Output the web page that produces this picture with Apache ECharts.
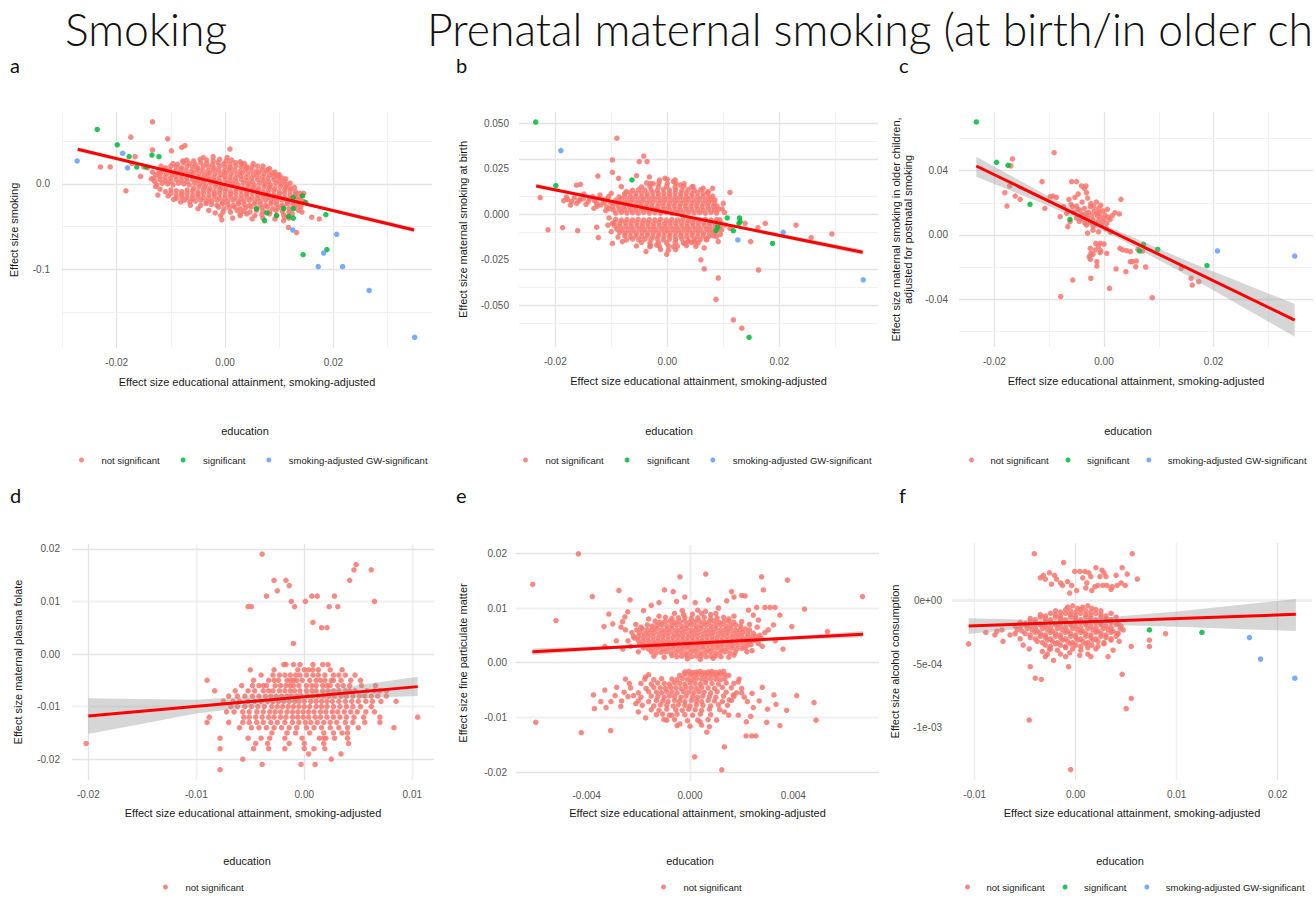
<!DOCTYPE html>
<html>
<head>
<meta charset="utf-8">
<script src="https://cdn.jsdelivr.net/npm/echarts@6.0.0/dist/echarts.min.js"></script>
<style>
  html, body { margin: 0; padding: 0; background: #ffffff; }
  #chart { width: 1316px; height: 900px; }
</style>
</head>
<body>
<div id="chart"></div>
<script>
// ---------- shared ----------
const SANS = '"Liberation Sans", Arial, sans-serif';
const HEAD = 'Lato, "Open Sans", sans-serif';
const GROUPS = ['not significant', 'significant', 'smoking-adjusted GW-significant'];
const GROUP_COLORS = ['#F8766D', '#00BA38', '#619CFF'];
const X_TITLE = 'Effect size educational attainment, smoking-adjusted';

// ---------- a: smoking (x in 1e-4, y in 1e-3) ----------
const A_UNIT = [1e-4, 1e-3];
const A_NS = [
[-58,27],[-46,29],[-34,28],[-22,27],[-10,29],[2,27],[12,28],
[-88,23],[-77,25],[-66,24],[-55,23],[-45,25],[-34,24],[-23,23],[-13,25],[-2,24],[9,23],[19,25],[30,24],
[-110,19],[-100,21],[-90,20],[-80,19],[-70,21],[-60,20],[-50,19],[-40,21],[-30,20],[-20,19],[-10,21],[0,20],[10,19],[20,21],[30,20],[40,19],[50,20],[60,21],
[-122,15],[-112,17],[-102,16],[-92,15],[-82,17],[-72,16],[-62,15],[-52,17],[-42,16],[-32,15],[-22,17],[-12,16],[-2,15],[8,17],[18,16],[28,15],[38,17],[48,16],[58,15],[68,17],[76,16],
[-128,11],[-118,13],[-108,12],[-98,11],[-88,13],[-78,12],[-68,11],[-58,13],[-48,12],[-38,11],[-28,13],[-18,12],[-8,11],[2,13],[12,12],[22,11],[32,13],[42,12],[52,11],[62,13],[72,12],[82,11],[88,13],
[-131,7],[-121,9],[-111,8],[-101,7],[-91,9],[-81,8],[-71,7],[-61,9],[-51,8],[-41,7],[-31,9],[-21,8],[-11,7],[-1,9],[9,8],[19,7],[29,9],[39,8],[49,7],[59,9],[69,8],[79,7],[89,9],[98,8],[105,7],
[-130,3],[-120,5],[-110,4],[-100,3],[-90,5],[-80,4],[-70,3],[-60,5],[-50,4],[-40,3],[-30,5],[-20,4],[-10,3],[0,5],[10,4],[20,3],[30,5],[40,4],[50,3],[60,5],[70,4],[80,3],[90,5],[100,4],[110,3],
[-126,-1],[-116,1],[-106,0],[-96,-1],[-86,1],[-76,0],[-66,-1],[-56,1],[-46,0],[-36,-1],[-26,1],[-16,0],[-6,-1],[4,1],[14,0],[24,-1],[34,1],[44,0],[54,-1],[64,1],[74,0],[84,-1],[94,1],[104,0],[114,-1],
[-58,-5],[-48,-3],[-38,-4],[-28,-5],[-18,-3],[-8,-4],[2,-5],[12,-3],[22,-4],[32,-5],[42,-3],[52,-4],[62,-5],[72,-3],[82,-4],[92,-5],[102,-3],[112,-4],[121,-5],
[-110,-9],[-100,-7],[-90,-8],[-80,-9],[-70,-7],[-60,-8],[-50,-9],[-40,-7],[-30,-8],[-20,-9],[-10,-7],[0,-8],[10,-9],[20,-7],[30,-8],[40,-9],[50,-7],[60,-8],[70,-9],[80,-7],[90,-8],[100,-9],[110,-7],[120,-8],[130,-9],
[-100,-11],[-90,-13],[-80,-12],[-70,-11],[-60,-13],[-50,-12],[-40,-11],[-30,-13],[-20,-12],[-10,-11],[0,-13],[10,-12],[20,-11],[30,-13],[40,-12],[50,-11],[60,-13],[70,-12],[80,-11],[90,-13],[100,-12],[110,-11],[120,-13],[130,-12],[138,-11],
[-90,-17],[-80,-15],[-70,-16],[-60,-17],[-50,-15],[-40,-16],[-30,-17],[-20,-15],[-10,-16],[0,-17],[10,-15],[20,-16],[30,-17],[40,-15],[50,-16],[60,-17],[70,-15],[80,-16],[90,-17],[100,-15],[110,-16],[120,-17],[130,-15],[139,-16],
[-75,-19],[-65,-21],[-55,-20],[-45,-19],[-35,-21],[-25,-20],[-15,-19],[-5,-21],[5,-20],[15,-19],[25,-21],[35,-20],[45,-19],[55,-21],[65,-20],[75,-19],[85,-21],[95,-20],[105,-19],[115,-21],[125,-20],[135,-19],
[-45,-25],[-35,-23],[-25,-24],[-15,-25],[-5,-23],[5,-24],[15,-25],[25,-23],[35,-24],[45,-25],[55,-23],[65,-24],[75,-25],[85,-23],[95,-24],[105,-25],[115,-23],[125,-24],[134,-25],
[-12,-27],[-2,-29],[8,-28],[18,-27],[28,-29],[38,-28],[48,-27],[58,-29],[68,-28],[78,-27],[88,-29],[98,-28],[108,-27],[118,-29],[128,-28],
[10,-33],[22,-31],[34,-32],[46,-33],[58,-31],[70,-32],[82,-33],[94,-31],[106,-32],[118,-33],
[40,-35],[55,-37],[68,-36],[82,-35],[95,-37],[108,-36],
[70,-40],[92,-41],[110,-39],
[-134,14],[-136,6],[-128,-3],[-120,-6],[-105,-14],[-95,-18],[-82,-21],[-64,-25],[-50,-29],[-30,-31],[-18,-34],[-4,-33],[-78,27],[-96,24],[-118,21],[-40,31],[-22,32],[4,31],[36,24],[52,24],[70,21],[82,18],[92,14],[100,11],[112,6],[120,1],[128,-4],[142,-13],[144,-21],[140,-27],[136,-31],[124,-35],[28,-37],[-8,-37],[14,-40],[50,-41],[118,-40],
[-134,73],[-174,55],[-106,53],[-134,40],[-99,39],[-74,45],[-80,43],[9,41],[-166,32],[-230,20],[-212,20],[-156,9],[-183,-8],[-124,-13],[80,17],[97,10],[-6,-42],[142,-33],[160,-39],[174,-41],[117,-51],[132,-57],[145,-11],[146,-21],[28,26],[40,20],[-150,20],[-143,19],[-172,24],[-71,28],[108,-43],[28,-35]
];
const A_SIG = [[-236,64],[-199,46],[-177,32],[-163,20],[-146,20],[-135,34],[-122,32],[126,-16],[143,-14],[149,-22],[126,-29],[108,-29],[117,-38],[126,-40],[95,-37],[77,-34],[73,-43],[58,-29],[186,-36],[188,-77],[144,-83]];
const A_GW = [[-273,27],[-189,36],[-180,19],[125,-54],[206,-59],[182,-81],[172,-97],[217,-97],[266,-125],[350,-180]];
const A_FIT = [[-0.0272, 0.0407], [0.0349, -0.054]];
const A_BAND_X = [-0.0272, 0, 0.0349];
const A_BAND_HI = [0.0432, -0.0002, -0.051];
const A_BAND_LO = [0.0382, -0.0014, -0.057];
const A_XTICKS = [-0.02, 0, 0.02], A_XLABELS = ['-0.02', '0.00', '0.02'], A_XMINOR = [-0.03, -0.01, 0.01, 0.03];
const A_YTICKS = [-0.1, 0], A_YLABELS = ['-0.1', '0.0'], A_YMINOR = [-0.15, -0.05, 0.05];

// ---------- b: maternal smoking at birth (x in 1e-4, y in 1e-4) ----------
const B_UNIT = [1e-4, 1e-4];
const B_NS = [
[-92,6],[-82,10],[-72,7],[-62,9],[-52,6],[-42,10],[-32,7],[-22,9],[-12,6],[-2,10],[8,7],[18,9],[28,6],[38,10],[48,7],[58,9],[68,6],[78,10],[88,7],
[-96,24],[-86,28],[-76,25],[-66,27],[-56,24],[-46,28],[-36,25],[-26,27],[-16,24],[-6,28],[4,25],[14,27],[24,24],[34,28],[44,25],[54,27],[64,24],[74,28],[84,25],[91,27],
[-98,42],[-88,46],[-78,43],[-68,45],[-58,42],[-48,46],[-38,43],[-28,45],[-18,42],[-8,46],[2,43],[12,45],[22,42],[32,46],[42,43],[52,45],[62,42],[72,46],[82,43],[89,45],
[-96,60],[-86,64],[-76,61],[-66,63],[-56,60],[-46,64],[-36,61],[-26,63],[-16,60],[-6,64],[4,61],[14,63],[24,60],[34,64],[44,61],[54,63],[64,60],[74,64],[84,61],
[-92,78],[-82,82],[-72,79],[-62,81],[-52,78],[-42,82],[-32,79],[-22,81],[-12,78],[-2,82],[8,79],[18,81],[28,78],[38,82],[48,79],[58,81],[68,78],[78,82],[85,79],
[-86,96],[-76,100],[-66,97],[-56,99],[-46,96],[-36,100],[-26,97],[-16,99],[-6,96],[4,100],[14,97],[24,99],[34,96],[44,100],[54,97],[64,99],[74,96],[81,100],
[-76,114],[-66,118],[-56,115],[-46,117],[-36,114],[-26,118],[-16,115],[-6,117],[4,114],[14,118],[24,115],[34,117],[44,114],[54,118],[64,115],[72,117],
[-62,132],[-51,136],[-40,133],[-29,135],[-18,132],[-7,136],[4,133],[15,135],[26,132],[37,136],[48,133],[60,135],
[-46,150],[-31,154],[-16,151],[-1,153],[14,150],[29,154],[44,151],
[-30,168],[-15,172],[0,169],[15,171],[30,168],
[-14,188],[0,192],[14,189],
[-92,-28],[-82,-32],[-72,-29],[-62,-31],[-52,-28],[-42,-32],[-32,-29],[-22,-31],[-12,-28],[-2,-32],[8,-29],[18,-31],[28,-28],[38,-32],[48,-29],[58,-31],[68,-28],[78,-32],[88,-29],[94,-31],
[-95,-46],[-85,-50],[-75,-47],[-65,-49],[-55,-46],[-45,-50],[-35,-47],[-25,-49],[-15,-46],[-5,-50],[5,-47],[15,-49],[25,-46],[35,-50],[45,-47],[55,-49],[65,-46],[75,-50],[85,-47],[95,-49],
[-94,-64],[-84,-68],[-74,-65],[-64,-67],[-54,-64],[-44,-68],[-34,-65],[-24,-67],[-14,-64],[-4,-68],[6,-65],[16,-67],[26,-64],[36,-68],[46,-65],[56,-67],[66,-64],[76,-68],[86,-65],[94,-67],
[-90,-82],[-80,-86],[-70,-83],[-60,-85],[-50,-82],[-40,-86],[-30,-83],[-20,-85],[-10,-82],[0,-86],[10,-83],[20,-85],[30,-82],[40,-86],[50,-83],[60,-85],[70,-82],[80,-86],[90,-83],
[-85,-100],[-75,-104],[-65,-101],[-55,-103],[-45,-100],[-35,-104],[-25,-101],[-15,-103],[-5,-100],[5,-104],[15,-101],[25,-103],[35,-100],[45,-104],[55,-101],[65,-103],[75,-100],[85,-104],
[-76,-118],[-66,-122],[-56,-119],[-46,-121],[-36,-118],[-26,-122],[-16,-119],[-6,-121],[4,-118],[14,-122],[24,-119],[34,-121],[44,-118],[54,-122],[64,-119],[74,-121],[82,-118],
[-62,-136],[-51,-140],[-40,-137],[-29,-139],[-18,-136],[-7,-140],[4,-137],[15,-139],[26,-136],[37,-140],[48,-137],[59,-139],[70,-136],
[-46,-154],[-31,-158],[-16,-155],[-1,-157],[14,-154],[29,-158],[44,-155],[55,-157],
[-30,-172],[-14,-176],[2,-173],[18,-175],[34,-172],
[-12,-193],[2,-197],[15,-194],
[-185,75],[-180,95],[-178,82],[-171,70],[-173,51],[-166,90],[-162,60],[-158,72],[-156,82],[-150,85],[-149,112],[-145,55],[-141,70],[-138,88],[-133,97],[-131,33],[-130,75],[-126,60],[-122,90],[-120,106],[-118,52],[-114,79],[-112,66],[-108,42],[-107,83],[-105,97],[-101,64],[-104,30],[-100,115],[-110,20],[-125,45],
[-90,418],[-98,299],[-42,320],[-50,290],[-36,290],[-98,230],[-124,210],[-87,198],[-55,212],[-32,205],[-4,198],[-162,160],[-155,165],[81,143],[112,120],[-227,92],[-187,-73],[-160,-90],[-126,-71],[-123,-128],[-98,-50],[-98,-160],[-80,-150],[-38,-205],[-1,-220],[38,-150],[51,-176],[66,-185],[91,-150],[139,-50],[149,-150],[162,-73],[175,-50],[257,-128],[294,-108],[60,-250],[66,-300],[91,-350],[87,-467],[118,-580],[133,-626],[163,-306],[-82,152],[-73,125],[-37,172],[-25,168],[11,180],[23,161],[46,152],[64,143],[73,125],[-73,-141],[-55,-174],[-31,-178],[-19,-169],[11,-178],[32,-159],[49,-150],[70,-141],[88,-123],[97,-86],[103,-59],[112,-77],[98,30],[100,60],[-104,-20],[-106,-60],[-100,-95],[-88,-125],[95,-110],[102,10],[-213,-85],[230,-60]
];
const B_SIG = [[-235,507],[-199,158],[-63,189],[107,-20],[129,-20],[130,-40],[128,-50],[118,-90],[87,-90],[90,-70],[188,-160],[146,-676]];
const B_GW = [[-190,350],[126,-141],[207,-99],[350,-360]];
const B_FIT = [[-0.0234, 0.0156], [0.0349, -0.0209]];
const B_BAND_X = [-0.0234, 0, 0.0349];
const B_BAND_HI = [0.0168, 0.0012, -0.0194];
const B_BAND_LO = [0.0144, 0.0006, -0.0224];
const B_XTICKS = [-0.02, 0, 0.02], B_XLABELS = ['-0.02', '0.00', '0.02'], B_XMINOR = [-0.01, 0.01, 0.03];
const B_YTICKS = [-0.05, -0.025, 0, 0.025, 0.05], B_YLABELS = ['-0.050', '-0.025', '0.000', '0.025', '0.050'];
const B_YMINOR = [-0.0625, -0.0375, -0.0125, 0.0125, 0.0375];

// ---------- c: maternal smoking in older children (x in 1e-4, y in 1e-4) ----------
const C_UNIT = [1e-4, 1e-4];
const C_NS = [
[-91,512],[-167,473],[-172,305],[-181,263],[-162,242],[-153,222],[-177,180],[-113,332],[-93,242],[-87,234],[-108,166],[-80,114],[-66,52],[-59,332],[-50,332],[-41,305],[-33,305],[-36,290],[-47,255],[-32,263],[-53,234],[-64,222],[-57,176],[-50,180],[-44,155],[-36,166],[-25,176],[-19,180],[-10,166],[-13,135],[-22,124],[-32,135],[-41,131],[-7,114],[2,124],[11,97],[5,73],[-62,83],[-68,135],[-74,176],[31,222],[20,139],[28,131],[4,41],
[-40,100],[-30,110],[-20,95],[-10,90],[0,100],[-45,85],[-35,75],[-25,80],[-15,70],[-5,60],[-28,140],[-18,150],[-8,140],[-38,120],[-50,105],[-55,140],[-12,120],[8,110],[-3,82],[-20,55],[-32,62],[15,120],[-48,160],[-2,150],[-24,195],[-14,205],[-40,205],[-6,185],[6,160],[-60,190],[-30,230],[-170,430],[-98,238],
[-15,-52],[-7,-52],[0,-56],[-25,-83],[-16,-93],[-7,-110],[-6,-97],[-24,-114],[-27,-135],[-25,-151],[-13,-166],[-13,-193],[5,-114],[29,-83],[34,-93],[41,-97],[48,-104],[48,-166],[52,-166],[59,-162],[58,-197],[76,-199],[40,-228],[22,-211],[-24,-269],[-57,-280],[10,-332],[-79,-383],[88,-390],[159,-269],[161,-311],[173,-290],[141,-207],[-20,30],[-10,20],[12,18],[-30,12],[62,-90],[70,-100],[-10,-70],[-20,-120]
];
const C_SIG = [[-233,703],[-196,452],[-175,433],[-135,191],[-62,97],[65,-99],[72,-58],[98,-89],[188,-190]];
const C_GW = [[207,-99],[348,-131]];
const C_FIT = [[-0.0233, 0.0429], [0.0348, -0.0529]];
const C_BAND_X = [-0.0233, -0.0098, 0.002, 0.015, 0.0348];
const C_BAND_HI = [0.0487, 0.0235, 0.0034, -0.0159, -0.0429];
const C_BAND_LO = [0.0363, 0.0177, -0.0010, -0.0247, -0.0632];
const C_XTICKS = [-0.02, 0, 0.02], C_XLABELS = ['-0.02', '0.00', '0.02'], C_XMINOR = [-0.01, 0.01, 0.03];
const C_YTICKS = [-0.04, 0, 0.04], C_YLABELS = ['-0.04', '0.00', '0.04'], C_YMINOR = [-0.06, -0.02, 0.02, 0.06];

// ---------- d: maternal plasma folate (x in 1e-4, y in 1e-4) ----------
const D_UNIT = [1e-4, 1e-4];
const D_NS = [
[-39,190],[48,170],[46,160],[62,160],[-28,140],[-17,140],[42,140],[-14,130],[-25,120],[-35,110],[7,110],[12,110],[28,110],[-12,100],[1,100],[65,100],[-52,90],[-49,90],[-9,90],[23,90],[31,90],[8,60],[16,50],[21,50],[-10,20],
[-19,-20],[-17,-20],[-10,-20],[-4,-20],[8,-20],[17,-20],[22,-20],
[-50,-30],[-28,-30],[-6,-30],[0,-30],[4,-30],[8,-30],[13,-30],[24,-30],[35,-30],
[-40,-40],[-29,-40],[-23,-40],[-18,-40],[-13,-40],[-8,-40],[-4,-40],[2,-40],[8,-40],[13,-40],[19,-40],[27,-40],[32,-40],[38,-40],[47,-40],
[-90,-50],[-47,-50],[-33,-50],[-28,-50],[-24,-50],[-16,-50],[-13,-50],[-10,-50],[-7,-50],[-2,-50],[5,-50],[11,-50],[15,-50],[19,-50],[25,-50],[27,-50],[34,-50],[43,-50],[52,-50],
[-58,-60],[-48,-60],[-42,-60],[-38,-60],[-35,-60],[-27,-60],[-22,-60],[-17,-60],[-13,-60],[-10,-60],[-5,-60],[2,-60],[7,-60],[11,-60],[17,-60],[21,-60],[24,-60],[31,-60],[36,-60],[42,-60],[53,-60],[66,-60],
[-83,-70],[-64,-70],[-52,-70],[-46,-70],[-38,-70],[-33,-70],[-29,-70],[-23,-70],[-18,-70],[-13,-70],[-9,-70],[-4,-70],[2,-70],[7,-70],[11,-70],[17,-70],[22,-70],[27,-70],[32,-70],[38,-70],[42,-70],[47,-70],[58,-70],[65,-70],[70,-70],[76,-70],
[-70,-80],[-62,-80],[-55,-80],[-48,-80],[-42,-80],[-36,-80],[-31,-80],[-26,-80],[-21,-80],[-16,-80],[-12,-80],[-7,-80],[-3,-80],[3,-80],[8,-80],[13,-80],[18,-80],[23,-80],[28,-80],[34,-80],[39,-80],[45,-80],[51,-80],[56,-80],[62,-80],[68,-80],[76,-80],
[-75,-90],[-66,-90],[-60,-90],[-52,-90],[-46,-90],[-40,-90],[-34,-90],[-29,-90],[-24,-90],[-19,-90],[-14,-90],[-9,-90],[-5,-90],[0,-90],[6,-90],[11,-90],[16,-90],[21,-90],[26,-90],[32,-90],[38,-90],[44,-90],[50,-90],[57,-90],[63,-90],[71,-90],[85,-90],
[-68,-100],[-62,-100],[-55,-100],[-49,-100],[-43,-100],[-37,-100],[-30,-100],[-25,-100],[-20,-100],[-15,-100],[-10,-100],[-5,-100],[0,-100],[5,-100],[11,-100],[16,-100],[21,-100],[27,-100],[33,-100],[39,-100],[45,-100],[52,-100],[62,-100],
[-72,-110],[-65,-110],[-57,-110],[-51,-110],[-44,-110],[-38,-110],[-32,-110],[-27,-110],[-22,-110],[-16,-110],[-11,-110],[-6,-110],[-1,-110],[4,-110],[9,-110],[15,-110],[20,-110],[26,-110],[31,-110],[37,-110],[43,-110],[49,-110],[57,-110],[65,-110],
[-88,-120],[-56,-120],[-51,-120],[-45,-120],[-39,-120],[-33,-120],[-28,-120],[-22,-120],[-17,-120],[-11,-120],[-6,-120],[-1,-120],[4,-120],[10,-120],[15,-120],[21,-120],[27,-120],[33,-120],[39,-120],[46,-120],[55,-120],[70,-120],[105,-120],
[-90,-130],[-70,-130],[-57,-130],[-51,-130],[-44,-130],[-38,-130],[-31,-130],[-25,-130],[-18,-130],[-11,-130],[-5,-130],[1,-130],[6,-130],[12,-130],[18,-130],[24,-130],[30,-130],[38,-130],[45,-130],[56,-130],[70,-130],
[-60,-140],[-49,-140],[-42,-140],[-35,-140],[-28,-140],[-21,-140],[-14,-140],[-7,-140],[2,-140],[9,-140],[16,-140],[24,-140],[32,-140],[40,-140],[50,-140],[83,-140],
[-30,-150],[-16,-150],[-8,-150],[5,-150],[18,-150],[27,-150],[35,-150],[40,-150],
[-78,-160],[-52,-160],[-40,-160],[-32,-160],[-18,-160],[-2,-160],[14,-160],[18,-160],[20,-160],[28,-160],[40,-160],
[-202,-170],[-45,-170],[-34,-170],[-14,-170],[0,-170],[18,-170],[41,-170],
[-78,-180],[-47,-180],[-33,-180],[-18,-180],[0,-180],[9,-180],[19,-180],
[4,-190],[34,-190],[-57,-200],[25,-200],[-39,-210],[-3,-210],[10,-210],[-78,-220]
];
const D_FIT = [[-0.020, -0.0118], [0.0105, -0.0062]];
const D_BAND_X = [-0.020, -0.010, 0, 0.0105];
const D_BAND_HI = [-0.0084, -0.0087, -0.0074, -0.0043];
const D_BAND_LO = [-0.0152, -0.0113, -0.0088, -0.0080];
const D_XTICKS = [-0.02, -0.01, 0, 0.01], D_XLABELS = ['-0.02', '-0.01', '0.00', '0.01'], D_XMINOR = [-0.015, -0.005, 0.005];
const D_YTICKS = [-0.02, -0.01, 0, 0.01, 0.02], D_YLABELS = ['-0.02', '-0.01', '0.00', '0.01', '0.02'], D_YMINOR = [-0.015, -0.005, 0.005, 0.015];

// ---------- e: fine particulate matter (x in 1e-5, y in 1e-4) ----------
const E_UNIT = [1e-5, 1e-4];
const E_NS = [
[-70,13],[-51,11],[-32,12],[-13,13],[6,11],[25,12],[44,13],[63,11],[82,12],[101,13],[120,11],
[-150,20],[-131,18],[-112,19],[-93,20],[-74,18],[-55,19],[-36,20],[-17,18],[2,19],[21,20],[40,18],[59,19],[78,20],[97,18],[116,19],[135,20],[154,18],[175,19],
[-180,27],[-161,25],[-142,26],[-123,27],[-104,25],[-85,26],[-66,27],[-47,25],[-28,26],[-9,27],[10,25],[29,26],[48,27],[67,25],[86,26],[105,27],[124,25],[143,26],[162,27],[181,25],[200,26],[214,27],
[-195,34],[-176,32],[-157,33],[-138,34],[-119,32],[-100,33],[-81,34],[-62,32],[-43,33],[-24,34],[-5,32],[14,33],[33,34],[52,32],[71,33],[90,34],[109,32],[128,33],[147,34],[166,32],[185,33],[204,34],[223,32],[236,33],
[-200,41],[-181,39],[-162,40],[-143,41],[-124,39],[-105,40],[-86,41],[-67,39],[-48,40],[-29,41],[-10,39],[9,40],[28,41],[47,39],[66,40],[85,41],[104,39],[123,40],[142,41],[161,39],[180,40],[199,41],[218,39],[237,40],[250,41],
[-200,48],[-181,46],[-162,47],[-143,48],[-124,46],[-105,47],[-86,48],[-67,46],[-48,47],[-29,48],[-10,46],[9,47],[28,48],[47,46],[66,47],[85,48],[104,46],[123,47],[142,48],[161,46],[180,47],[199,48],[218,46],[237,47],[255,48],
[-195,55],[-176,53],[-157,54],[-138,55],[-119,53],[-100,54],[-81,55],[-62,53],[-43,54],[-24,55],[-5,53],[14,54],[33,55],[52,53],[71,54],[90,55],[109,53],[128,54],[147,55],[166,53],[185,54],[204,55],[223,53],[245,54],
[-185,62],[-166,60],[-147,61],[-128,62],[-109,60],[-90,61],[-71,62],[-52,60],[-33,61],[-14,62],[5,60],[24,61],[43,62],[62,60],[81,61],[100,62],[119,60],[138,61],[157,62],[176,60],[195,61],[214,62],[230,60],
[-165,69],[-146,67],[-127,68],[-108,69],[-89,67],[-70,68],[-51,69],[-32,67],[-13,68],[6,69],[25,67],[44,68],[63,69],[82,67],[101,68],[120,69],[139,67],[158,68],[177,69],[196,67],
[-135,76],[-116,74],[-97,75],[-78,76],[-59,74],[-40,75],[-21,76],[-2,74],[17,75],[36,76],[55,74],[74,75],[93,76],[112,74],[131,75],[150,76],[169,74],
[-95,83],[-70,81],[-45,82],[-20,83],[5,81],[30,82],[55,83],[80,81],[105,82],[130,83],
[-60,90],[-25,88],[10,89],[45,90],[80,88],[100,90],
[-230,30],[-225,55],[-215,45],[-240,40],[-210,70],[-250,60],[265,35],[270,50],[275,45],[260,65],[280,30],[290,55],[-160,80],[-120,85],[150,80],[170,85],[200,75],[230,70],[-30,95],[30,96],[60,94],[-100,10],[150,10],[170,14],[-140,12],[-10,7],[40,6],[90,8],[220,20],[240,22],[-200,20],[-190,65],
[-432,199],[-609,143],[-519,77],[-378,121],[-275,132],[-314,89],[-333,66],[-299,71],[-267,65],[-261,75],[-252,84],[-232,115],[-241,93],[-219,48],[-206,60],[-39,157],[61,162],[277,157],[377,151],[284,133],[-99,133],[-65,130],[-52,112],[71,115],[142,113],[161,130],[170,120],[200,123],[213,122],[258,101],[290,101],[310,101],[329,101],[348,87],[394,66],[443,98],[532,57],[668,121],[323,69],[303,60],[265,78],[245,87],[226,96],[-150,105],[-120,110],[-180,95],[-20,120],[20,110],[110,100],[-285,40],[-330,30],[330,40],[360,25],[-260,25],
[-20,-17],[-5,-16],[10,-18],[25,-17],[40,-16],[55,-18],[70,-17],[85,-16],[100,-18],[115,-17],[130,-16],
[-160,-22],[-40,-23],[-20,-21],[0,-22],[15,-23],[30,-21],[45,-22],[60,-23],[75,-21],[90,-22],[105,-23],[120,-21],[135,-22],[150,-23],
[-175,-30],[-140,-31],[-110,-29],[-70,-30],[-50,-31],[-30,-29],[-10,-30],[8,-31],[25,-29],[45,-30],[62,-31],[80,-29],[100,-30],[118,-31],[135,-29],[190,-30],
[-190,-38],[-150,-39],[-125,-37],[-100,-38],[-80,-39],[-60,-37],[-40,-38],[-20,-39],[0,-37],[20,-38],[40,-39],[60,-37],[85,-38],[110,-39],[140,-37],[170,-38],
[-230,-46],[-170,-47],[-140,-45],[-115,-46],[-95,-47],[-75,-45],[-55,-46],[-35,-47],[-15,-45],[5,-46],[25,-47],[45,-45],[70,-46],[95,-47],[125,-45],[160,-46],[200,-47],
[-255,-54],[-200,-55],[-160,-53],[-130,-54],[-110,-55],[-90,-53],[-70,-54],[-50,-55],[-25,-53],[-5,-54],[15,-55],[35,-53],[55,-54],[80,-55],[105,-53],[140,-54],[180,-55],
[-240,-62],[-190,-63],[-150,-61],[-125,-62],[-100,-63],[-80,-61],[-60,-62],[-35,-63],[-15,-61],[10,-62],[30,-63],[50,-61],[75,-62],[100,-63],[130,-61],[170,-62],[210,-63],
[-200,-70],[-160,-71],[-130,-69],[-105,-70],[-85,-71],[-60,-69],[-40,-70],[-20,-71],[5,-69],[25,-70],[45,-71],[70,-69],[95,-70],[125,-71],[160,-69],
[-185,-78],[-140,-79],[-115,-77],[-90,-78],[-65,-79],[-45,-77],[-20,-78],[0,-79],[25,-77],[50,-78],[80,-79],[110,-77],[145,-78],
[-150,-86],[-120,-87],[-90,-85],[-55,-86],[-30,-87],[-5,-85],[20,-86],[45,-87],[75,-85],[115,-86],
[-130,-95],[-80,-96],[-50,-94],[-20,-95],[10,-96],[40,-94],[80,-95],[150,-96],
[-90,-105],[-60,-104],[-10,-106],[30,-105],[70,-104],
[-50,-115],[0,-116],[45,-114],
[-597,-109],[-421,-128],[-307,-124],[-374,-59],[-370,-84],[-345,-71],[-325,-82],[-306,-71],[-284,-45],[-268,-80],[-265,-70],[-235,-38],[-219,-60],[-210,-75],[-172,-26],[-172,-101],[18,-172],[123,-196],[133,-154],[218,-108],[235,-98],[217,-134],[239,-134],[255,-134],[187,-96],[245,-82],[297,-109],[325,-59],[333,-76],[348,-115],[374,-87],[413,-60],[480,-73],[488,-105],[187,-35],[200,-55],[222,-71],[240,-56],[268,-70],[168,-59],[152,-68],[133,-90],[103,-105],[75,-117],[65,-127],[39,-108],[-39,-112],[-71,-96],[-101,-104],[-106,-94],[-250,-30],[-290,-60],[-330,-50],[-200,-90],[280,-45],[300,-85]
];
const E_FIT = [[-0.0061, 0.0020], [0.0067, 0.0052]];
const E_BAND_X = [-0.0061, -0.003, 0, 0.0035, 0.0067];
const E_BAND_HI = [0.0026, 0.0031, 0.0037, 0.0047, 0.0058];
const E_BAND_LO = [0.0014, 0.0025, 0.0033, 0.0041, 0.0046];
const E_XTICKS = [-0.004, 0, 0.004], E_XLABELS = ['-0.004', '0.000', '0.004'], E_XMINOR = [-0.006, -0.002, 0.002, 0.006];
const E_YTICKS = [-0.02, -0.01, 0, 0.01, 0.02], E_YLABELS = ['-0.02', '-0.01', '0.00', '0.01', '0.02'], E_YMINOR = [-0.015, -0.005, 0.005, 0.015];

// ---------- f: alcohol consumption (x in 1e-4, y in 1e-5) ----------
const F_UNIT = [1e-4, 1e-5];
const F_NS = [
[-8,-5],[-3,-4],[2,-6],[7,-5],[12,-4],[16,-6],
[-20,-8],[-15,-9],[-10,-7],[-5,-8],[0,-9],[5,-7],[10,-8],[15,-9],[20,-7],[25,-8],
[-35,-11],[-30,-12],[-25,-10],[-20,-11],[-15,-12],[-10,-10],[-5,-11],[0,-12],[5,-10],[10,-11],[15,-12],[20,-10],[25,-11],[30,-12],[35,-10],
[-45,-14],[-40,-15],[-35,-13],[-30,-14],[-25,-15],[-20,-13],[-15,-14],[-10,-15],[-5,-13],[0,-14],[5,-15],[10,-13],[15,-14],[20,-15],[25,-13],[30,-14],[35,-15],[40,-13],
[-55,-17],[-50,-18],[-45,-16],[-40,-17],[-35,-18],[-30,-16],[-25,-17],[-20,-18],[-15,-16],[-10,-17],[-5,-18],[0,-16],[5,-17],[10,-18],[15,-16],[20,-17],[25,-18],[30,-16],[35,-17],[42,-18],
[-60,-20],[-55,-21],[-50,-19],[-45,-20],[-40,-21],[-35,-19],[-30,-20],[-25,-21],[-20,-19],[-15,-20],[-10,-21],[-5,-19],[0,-20],[5,-21],[10,-19],[15,-20],[20,-21],[25,-19],[30,-20],[35,-21],[40,-19],[45,-20],
[-58,-23],[-53,-24],[-48,-22],[-43,-23],[-38,-24],[-33,-22],[-28,-23],[-23,-24],[-18,-22],[-13,-23],[-8,-24],[-3,-22],[2,-23],[7,-24],[12,-22],[17,-23],[22,-24],[27,-22],[32,-23],[37,-24],[44,-22],
[-50,-26],[-45,-27],[-40,-25],[-35,-26],[-30,-27],[-25,-25],[-20,-26],[-15,-27],[-10,-25],[-5,-26],[0,-27],[5,-25],[10,-26],[15,-27],[20,-25],[25,-26],[30,-27],[35,-25],[42,-26],
[-45,-29],[-40,-30],[-35,-28],[-30,-29],[-25,-30],[-20,-28],[-15,-29],[-10,-30],[-5,-28],[0,-29],[5,-30],[10,-28],[15,-29],[20,-30],[25,-28],[30,-29],[35,-30],[40,-28],
[-38,-32],[-33,-33],[-28,-31],[-23,-32],[-18,-33],[-13,-31],[-8,-32],[-3,-33],[2,-31],[7,-32],[12,-33],[17,-31],[22,-32],[28,-33],[35,-31],
[-30,-35],[-25,-36],[-20,-34],[-15,-35],[-10,-36],[-5,-34],[0,-35],[5,-36],[10,-34],[16,-35],[22,-36],[28,-34],
[-25,-38],[-18,-39],[-10,-37],[-3,-38],[5,-39],[12,-37],[20,-38],
[-15,-42],[-6,-41],[4,-43],[12,-42],
[-41,37],[56,37],[-12,30],[-32,20],[-21,20],[-19,17],[-15,14],[-13,12],[-8,15],[-4,12],[-1,23],[4,23],[9,23],[13,22],[7,18],[11,14],[10,10],[26,24],[28,22],[24,19],[30,19],[22,12],[27,12],[31,12],[36,11],[41,12],[45,14],[49,12],[51,21],[46,26],[61,17],[-26,22],[-24,13],[-30,17],[-6,6],[1,8],[16,8],[19,11],[35,9],[40,20],[-35,18],[15,19],[20,26],
[-106,-34],[-89,-25],[-78,-24],[-73,-23],[-65,-27],[-60,-26],[-55,-30],[-52,-35],[-46,-38],[-45,-52],[-40,-61],[-34,-62],[-46,-94],[-7,-52],[46,-58],[55,-77],[50,-85],[-5,-133],[55,-36],[73,-31],[73,-36],[89,-26],[32,-44],[37,-39],[15,-44],[-10,-44],[-33,-40],[-22,-47],[-28,-42],[41,-26],[43,-32],[47,-23],[-72,-32],[-80,-27],[-26,-38],[-30,-44]
];
const F_SIG = [[73,-23],[125,-25]];
const F_GW = [[172,-29],[183,-46],[217,-61]];
const F_FIT = [[-0.0106, -0.000199], [0.0218, -0.000107]];
const F_BAND_X = [-0.0106, -0.004, 0.002, 0.010, 0.0218];
const F_BAND_HI = [-0.000139, -0.000152, -0.000138, -0.000085, 0.000013];
const F_BAND_LO = [-0.000262, -0.000208, -0.000188, -0.000205, -0.000239];
const F_XTICKS = [-0.01, 0, 0.01, 0.02], F_XLABELS = ['-0.01', '0.00', '0.01', '0.02'], F_XMINOR = [-0.005, 0.005, 0.015];
const F_YTICKS = [-0.001, -0.0005, 0], F_YLABELS = ['-1e-03', '-5e-04', '0e+00'], F_YMINOR = [-0.00125, -0.00075, -0.00025, 0.00025];

// ---------- panel layout ----------
const PANELS = [
  { box: [62, 112, 370, 236], xr: [-0.0301, 0.0382], yr: [-0.1925, 0.0845], unit: A_UNIT, groups: [A_NS, A_SIG, A_GW],
    fit: A_FIT, band: [A_BAND_X, A_BAND_HI, A_BAND_LO], xt: A_XTICKS, xl: A_XLABELS, xm: A_XMINOR, yt: A_YTICKS, yl: A_YLABELS, ym: A_YMINOR,
    yName: 'Effect size smoking', yGap: 42, yMargin: 12, xGap: 28, legend: [79, 455, 21, 3], edu: [245, 431] },
  { box: [519, 112, 359, 235], xr: [-0.02648, 0.03763], yr: [-0.07291, 0.05621], unit: B_UNIT, groups: [B_NS, B_SIG, B_GW],
    fit: B_FIT, band: [B_BAND_X, B_BAND_HI, B_BAND_LO], xt: B_XTICKS, xl: B_XLABELS, xm: B_XMINOR, yt: B_YTICKS, yl: B_YLABELS, ym: B_YMINOR,
    yName: 'Effect size maternal smoking at birth', yGap: 50, yMargin: 10, xGap: 28, legend: [523, 455, 21, 3], edu: [669, 431] },
  { box: [959, 112, 354, 235], xr: [-0.02646, 0.03814], yr: [-0.06965, 0.07649], unit: C_UNIT, groups: [C_NS, C_SIG, C_GW],
    fit: C_FIT, band: [C_BAND_X, C_BAND_HI, C_BAND_LO], xt: C_XTICKS, xl: C_XLABELS, xm: C_XMINOR, yt: C_YTICKS, yl: C_YLABELS, ym: C_YMINOR,
    yName: 'Effect size maternal smoking in older children,\nadjusted for postnatal smoking', yGap: 45, yMargin: 11, xGap: 28, legend: [969, 455, 17, 2], edu: [1128, 431] },
  { box: [72, 544, 362, 236], xr: [-0.02151, 0.01201], yr: [-0.02395, 0.02091], unit: D_UNIT, groups: [D_NS],
    fit: D_FIT, band: [D_BAND_X, D_BAND_HI, D_BAND_LO], xt: D_XTICKS, xl: D_XLABELS, xm: D_XMINOR, yt: D_YTICKS, yl: D_YLABELS, ym: D_YMINOR,
    yName: 'Effect size maternal plasma folate', yGap: 48, yMargin: 12, xGap: 27, legend: [163, 882, 21, 3], edu: [247, 861] },
  { box: [516, 545, 363, 236], xr: [-0.006736, 0.007316], yr: [-0.02163, 0.02152], unit: E_UNIT, groups: [E_NS],
    fit: E_FIT, band: [E_BAND_X, E_BAND_HI, E_BAND_LO], xt: E_XTICKS, xl: E_XLABELS, xm: E_XMINOR, yt: E_YTICKS, yl: E_YLABELS, ym: E_YMINOR,
    yName: 'Effect size fine particulate matter', yGap: 47, yMargin: 9, xGap: 26, legend: [661, 882, 21, 3], edu: [690, 861] },
  { box: [952, 543, 360, 237], xr: [-0.012248, 0.023396], yr: [-0.0014118, 0.0004543], unit: F_UNIT, groups: [F_NS, F_SIG, F_GW],
    fit: F_FIT, band: [F_BAND_X, F_BAND_HI, F_BAND_LO], xt: F_XTICKS, xl: F_XLABELS, xm: F_XMINOR, yt: F_YTICKS, yl: F_YLABELS, ym: F_YMINOR,
    yName: 'Effect size alcohol consumption', yGap: 51, yMargin: 10, xGap: 27, legend: [965, 882, 18, 2], edu: [1120, 861] }
];

function labeler(ticks, labels) {
  return function (v) {
    const k = ticks.findIndex(t => Math.abs(t - v) < 1e-12);
    return k >= 0 ? labels[k] : '';
  };
}

function makeAxis(i, range, ticks, labels, name, gap, margin) {
  return {
    type: 'value', gridIndex: i, min: range[0], max: range[1],
    axisLine: { show: false }, axisTick: { show: false }, splitLine: { show: false },
    axisLabel: {
      customValues: ticks, formatter: labeler(ticks, labels), margin: margin,
      color: '#555555', fontSize: 10, fontFamily: SANS
    },
    name: name, nameLocation: 'middle', nameGap: gap,
    nameTextStyle: { fontSize: 11, color: '#1a1a1a', fontFamily: SANS, lineHeight: 12, align: 'center' }
  };
}

const MAJOR = { color: '#e4e4e4', width: 1.3, type: 'solid' };
const MINOR = { color: '#efefef', width: 0.9, type: 'solid' };

const option = {
  animation: false,
  backgroundColor: '#ffffff',
  grid: [], xAxis: [], yAxis: [], series: [], legend: [], graphic: []
};

PANELS.forEach((p, i) => {
  option.grid.push({ left: p.box[0], top: p.box[1], width: p.box[2], height: p.box[3] });
  option.xAxis.push(makeAxis(i, p.xr, p.xt, p.xl, X_TITLE, p.xGap, 9));
  option.yAxis.push(makeAxis(i, p.yr, p.yt, p.yl, p.yName, p.yGap, p.yMargin));

  // panel grid lines
  const lines = [];
  p.xt.forEach(v => lines.push({ xAxis: v, lineStyle: MAJOR }));
  p.xm.forEach(v => lines.push({ xAxis: v, lineStyle: MINOR }));
  p.yt.forEach(v => lines.push({ yAxis: v, lineStyle: MAJOR }));
  p.ym.forEach(v => lines.push({ yAxis: v, lineStyle: MINOR }));
  option.series.push({
    type: 'scatter', xAxisIndex: i, yAxisIndex: i, data: [], silent: true, z: 0,
    markLine: {
      silent: true, symbol: ['none', 'none'], animation: false, z: 0,
      label: { show: false }, emphasis: { disabled: true }, data: lines
    }
  });

  // points by significance group
  p.groups.forEach((pts, g) => {
    option.series.push({
      type: 'scatter', name: GROUPS[g], xAxisIndex: i, yAxisIndex: i, z: 2,
      symbol: 'circle', symbolSize: 5.5, silent: true,
      itemStyle: { color: GROUP_COLORS[g], opacity: 0.85 },
      data: pts.map(([x, y]) => [x * p.unit[0], y * p.unit[1]])
    });
  });

  // confidence band of the linear fit
  const [bx, bhi, blo] = p.band;
  option.series.push({
    type: 'custom', xAxisIndex: i, yAxisIndex: i, silent: true, z: 3,
    data: [[bx[0], blo[0]]],
    renderItem: function (params, api) {
      const upper = bx.map((x, k) => api.coord([x, bhi[k]]));
      const lower = bx.map((x, k) => api.coord([x, blo[k]])).reverse();
      return { type: 'polygon', shape: { points: upper.concat(lower) }, style: { fill: 'rgba(153,153,153,0.4)' } };
    }
  });

  // fitted line
  option.series.push({
    type: 'line', xAxisIndex: i, yAxisIndex: i, data: p.fit, symbol: 'none', silent: true, z: 4,
    lineStyle: { color: '#ff0000', width: 3 }
  });

  option.legend.push({
    left: p.legend[0], top: p.legend[1], width: 360, orient: 'horizontal', padding: 0,
    data: GROUPS.slice(0, p.groups.length), icon: 'circle',
    itemWidth: 24, itemHeight: 5, itemGap: p.legend[2], selectedMode: false,
    textStyle: { fontSize: 9.5, color: '#222222', fontFamily: SANS, padding: [0, 0, 0, p.legend[3]] }
  });

  option.graphic.push({
    type: 'text', x: p.edu[0], y: p.edu[1], silent: true,
    style: { text: 'education', fontSize: 11, fontFamily: SANS, fill: '#1a1a1a', align: 'center', verticalAlign: 'middle' }
  });
});

// headings and panel letters
const HEADINGS = [['Smoking', 65, 28], ['Prenatal maternal smoking (at birth/in older ch', 427, 28]];
const LETTERS = [['a', 10, 65], ['b', 456, 65], ['c', 899, 65], ['d', 10, 495], ['e', 456, 495], ['f', 899, 495]];
HEADINGS.forEach(([t, x, y]) => option.graphic.push({
  type: 'text', x: x, y: y, silent: true,
  style: { text: t, fontSize: 44.5, fontFamily: HEAD, fontWeight: 300, fill: '#111111', align: 'left', verticalAlign: 'middle' }
}));
LETTERS.forEach(([t, x, y]) => option.graphic.push({
  type: 'text', x: x, y: y, silent: true,
  style: { text: t, fontSize: 20, fontFamily: HEAD, fill: '#111111', align: 'left', verticalAlign: 'middle' }
}));

const chart = echarts.init(document.getElementById('chart'), null, { renderer: 'svg', width: 1316, height: 900 });
chart.setOption(option);
</script>
</body>
</html>
